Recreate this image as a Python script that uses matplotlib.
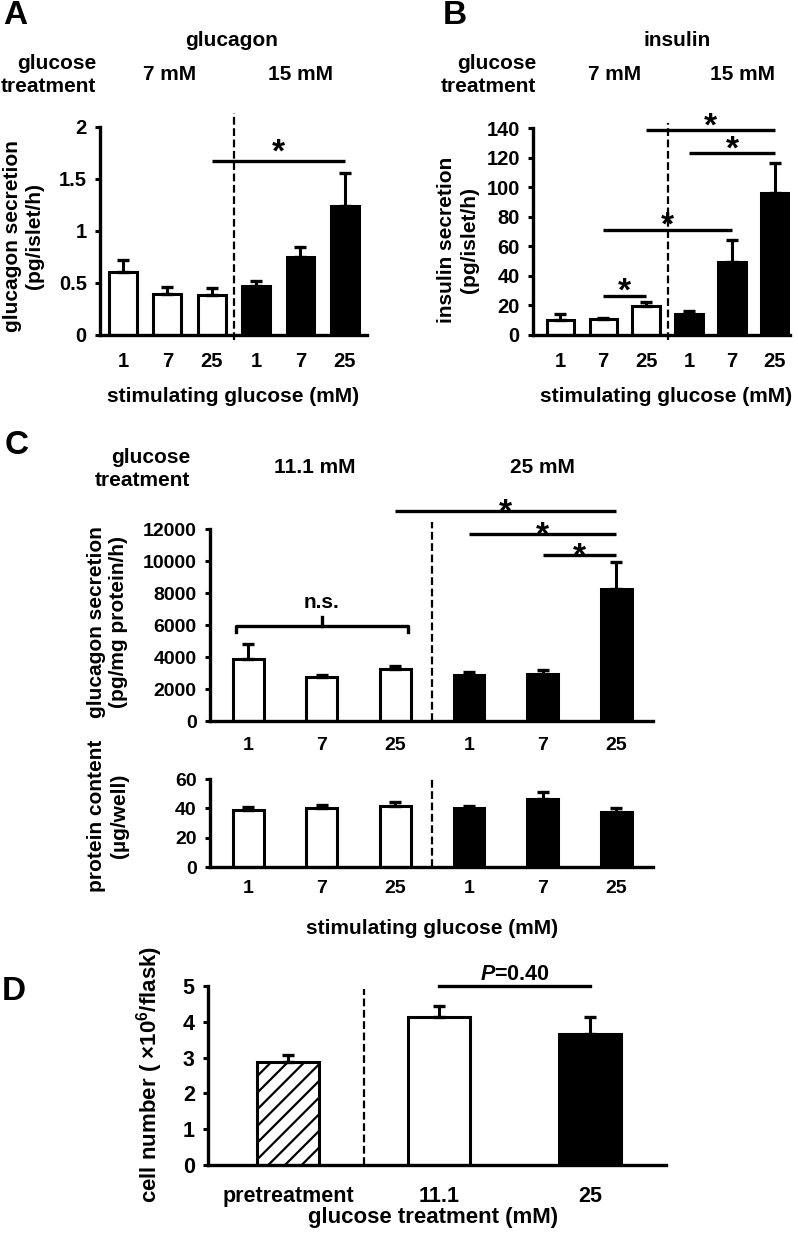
import numpy as np
import matplotlib
matplotlib.use('Agg')
import matplotlib.pyplot as plt
from matplotlib import transforms

plt.rcParams['font.family'] = ['Liberation Sans', 'DejaVu Sans']
plt.rcParams['font.weight'] = 'bold'
plt.rcParams['mathtext.fontset'] = 'custom'
plt.rcParams['mathtext.rm'] = 'Liberation Sans:bold'
plt.rcParams['mathtext.it'] = 'Liberation Sans:bold:italic'
plt.rcParams['mathtext.bf'] = 'Liberation Sans:bold'
plt.rcParams['hatch.linewidth'] = 1.6

# data
stim_labels = ['1', '7', '25', '1', '7', '25']
glucagon_islet = [0.61, 0.39, 0.385, 0.47, 0.75, 1.24]
glucagon_islet_err = [0.11, 0.07, 0.065, 0.05, 0.10, 0.32]
insulin_islet = [10.2, 10.5, 19.5, 14.5, 49.5, 96.0]
insulin_islet_err = [3.8, 1.0, 3.0, 1.5, 15.0, 20.5]
glucagon_cells = [3900, 2750, 3250, 2870, 2940, 8250]
glucagon_cells_err = [900, 120, 190, 190, 250, 1700]
protein = [39.0, 40.4, 41.8, 40.4, 46.4, 37.5]
protein_err = [2.0, 1.6, 2.2, 1.2, 4.6, 3.0]
cell_labels = ['pretreatment', '11.1', '25']
cell_number = [2.88, 4.13, 3.66]
cell_number_err = [0.19, 0.31, 0.47]

# (from bar, to bar, height)
sig_A = [(2, 5, 1.67)]
sig_B = [(2, 5, 138.5), (3, 5, 123), (1, 4, 71), (1, 2, 26.5)]
sig_C = [(2, 5, 13125), (3, 5, 11690), (4, 5, 10375)]

six_colors = ['white'] * 3 + ['black'] * 3

LAB = 15     # label / header size
TCK = 14.5   # tick label size

W, H = 798, 1237
fig = plt.figure(figsize=(W / 100, H / 100), dpi=100)


def add_ax(x0, x1, ytop, ybot):
    return fig.add_axes([x0 / W, 1 - ybot / H, (x1 - x0) / W, (ybot - ytop) / H])


def ftext(x, y, s, **kw):
    kw.setdefault('ha', 'center')
    kw.setdefault('va', 'center')
    kw.setdefault('fontsize', LAB)
    fig.text(x / W, 1 - y / H, s, **kw)


def bar_panel(ax, vals, errs, colors, labels, yticks, ylabs, xlim, width,
              fs=TCK, xpad=12, hatches=None):
    x = np.arange(len(vals))
    bars = ax.bar(x, vals, width, color=colors, edgecolor='black',
                  linewidth=2.2, zorder=2)
    if hatches:
        for b, h in zip(bars, hatches):
            b.set_hatch(h)
    ax.errorbar(x, vals, yerr=[np.zeros(len(errs)), errs], fmt='none',
                ecolor='black', elinewidth=2.2, capsize=4.5, capthick=2.4,
                zorder=3)
    ax.set_xlim(*xlim)
    ax.set_ylim(yticks[0], yticks[-1])
    ax.set_xticks(x, labels, fontsize=fs)
    ax.set_yticks(yticks, ylabs, fontsize=fs)
    for s in ['top', 'right']:
        ax.spines[s].set_visible(False)
    for s in ['left', 'bottom']:
        ax.spines[s].set_linewidth(2.4)
    ax.tick_params(axis='x', length=0, pad=xpad)
    ax.tick_params(axis='y', direction='out', length=3.5, width=2.2, pad=6)
    ax.patch.set_alpha(0)


def divider(ax, xpos, lo, hi):
    tr = transforms.blended_transform_factory(ax.transData, ax.transAxes)
    ax.plot([xpos, xpos], [lo, hi], transform=tr, color='black', lw=1.6,
            ls=(0, (3.5, 1.6)), clip_on=False, zorder=4)


def sig_lines(ax, sigs, star_off, fs=24):
    for i, j, y in sigs:
        ax.plot([i, j], [y, y], color='black', lw=2.4, clip_on=False,
                solid_capstyle='butt')
        ax.annotate('*', xy=((i + j) / 2, y), xytext=(0, star_off),
                    textcoords='offset points', ha='center', va='center',
                    fontsize=fs, annotation_clip=False)


# ---------- A ----------
axA = add_ax(100, 367, 127, 335)
bar_panel(axA, glucagon_islet, glucagon_islet_err, six_colors, stim_labels,
          [0, 0.5, 1, 1.5, 2], ['0', '0.5', '1', '1.5', '2'], (-0.52, 5.5), 0.63)
divider(axA, 2.5, -0.024, 1.067)
sig_lines(axA, sig_A, 6)
ftext(3, 15, 'A', fontsize=24, ha='left')
ftext(232, 40, 'glucagon')
ftext(96, 75, 'glucose\ntreatment', ha='right', linespacing=1.3)
ftext(170, 75, '7 mM')
ftext(300, 75, '15 mM')
ftext(24, 236, 'glucagon secretion\n(pg/islet/h)', rotation=90, linespacing=1.2)
ftext(233, 397, 'stimulating glucose (mM)')

# ---------- B ----------
axB = add_ax(533, 790, 128, 335)
bar_panel(axB, insulin_islet, insulin_islet_err, six_colors, stim_labels,
          list(range(0, 141, 20)), [str(v) for v in range(0, 141, 20)],
          (-0.63, 5.35), 0.63)
divider(axB, 2.5, -0.024, 1.024)
sig_lines(axB, sig_B, 2.5)
ftext(443, 15, 'B', fontsize=24, ha='left')
ftext(677, 40, 'insulin')
ftext(536, 75, 'glucose\ntreatment', ha='right', linespacing=1.3)
ftext(615, 75, '7 mM')
ftext(743, 75, '15 mM')
ftext(458, 240, 'insulin secretion\n(pg/islet/h)', rotation=90, linespacing=1.2)
ftext(666, 397, 'stimulating glucose (mM)')

# ---------- C ----------
axC1 = add_ax(210, 653, 529, 721)
bar_panel(axC1, glucagon_cells, glucagon_cells_err, six_colors, stim_labels,
          list(range(0, 12001, 2000)), [str(v) for v in range(0, 12001, 2000)],
          (-0.52, 5.5), 0.42, fs=14, xpad=11.5)
divider(axC1, 2.5, 0, 1.036)
sig_lines(axC1, sig_C, -1.5)
# n.s. bracket over the 11.1 mM group
axC1.plot([-0.17, -0.17, 2.17, 2.17], [5560, 5940, 5940, 5560], color='black',
          lw=2.4, solid_joinstyle='round')
axC1.plot([1, 1], [5940, 6500], color='black', lw=2.4)
axC1.text(1, 7375, 'n.s.', ha='center', va='center', fontsize=LAB)

axC2 = add_ax(210, 653, 779, 867)
bar_panel(axC2, protein, protein_err, six_colors, stim_labels,
          [0, 20, 40, 60], ['0', '20', '40', '60'], (-0.52, 5.5), 0.42,
          fs=14, xpad=9.5)
divider(axC2, 2.5, 0, 1.0)

ftext(5, 446, 'C', fontsize=24, ha='left')
ftext(190, 469, 'glucose\ntreatment', ha='right', linespacing=1.3)
ftext(315, 468, '11.1 mM')
ftext(542, 468, '25 mM')
ftext(108, 622, 'glucagon secretion\n(pg/mg protein/h)', rotation=90, linespacing=1.2)
ftext(108, 816, 'protein content\n(µg/well)', rotation=90, linespacing=1.2)
ftext(432, 928, 'stimulating glucose (mM)')

# ---------- D ----------
axD = add_ax(208, 666, 986, 1165)
bar_panel(axD, cell_number, cell_number_err, ['white', 'white', 'black'],
          cell_labels, [0, 1, 2, 3, 4, 5], ['0', '1', '2', '3', '4', '5'],
          (-0.53, 2.5), 0.41, fs=15.5, xpad=15, hatches=['//', '', ''])
divider(axD, 0.5, 0, 0.983)
axD.plot([1, 2], [5.0, 5.0], color='black', lw=2.4, clip_on=False)
axD.annotate('$P$=0.40', xy=(1.5, 5.0), xytext=(0, 8), textcoords='offset points',
             ha='center', va='center', fontsize=15.5, annotation_clip=False)
ftext(2, 991, 'D', fontsize=24, ha='left')
ftext(150, 1074, 'cell number ( ×10$^{6}$/flask)', rotation=90, fontsize=16)
ftext(433, 1218, 'glucose treatment (mM)', fontsize=16)

fig.savefig('out.png', dpi=100)
